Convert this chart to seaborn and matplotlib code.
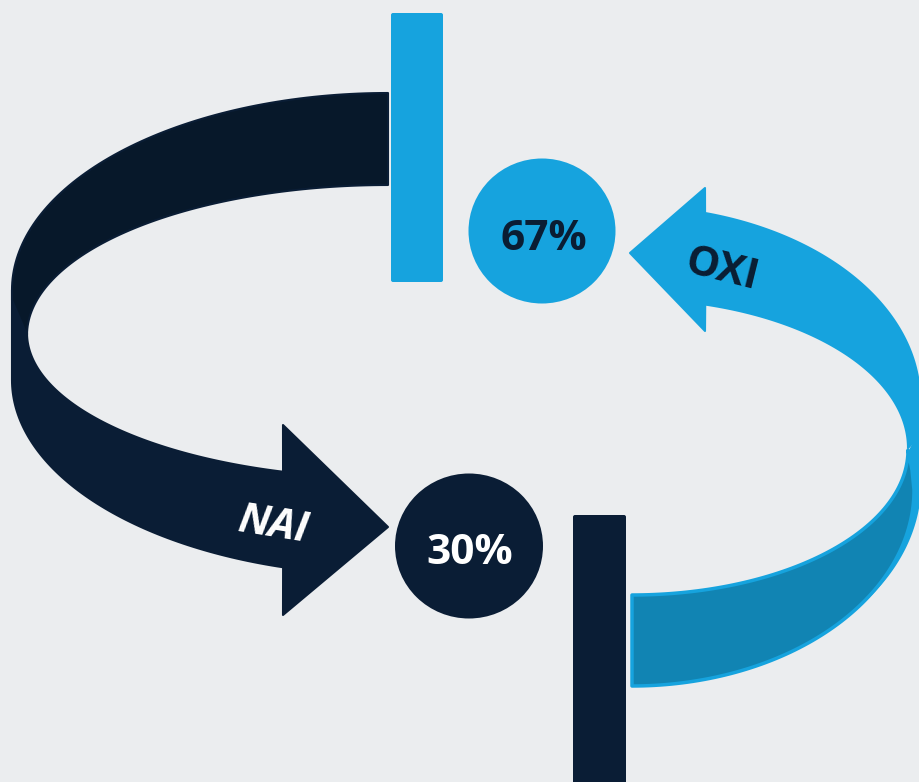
import numpy as np
import seaborn as sns
import matplotlib.pyplot as plt
from matplotlib.patches import Polygon, Ellipse, FancyBboxPatch

# data
labels = ["NAI", "OXI"]
shares = [30, 67]
label_colors = ["white", "#0a1d33"]

bg = "#ebedef"
navy = "#0a1d35"
navy_dark = "#07182a"
sky = "#16a3de"
sky_dark = "#1184b3"

sns.set_theme(style="white", rc={"axes.facecolor": bg, "figure.facecolor": bg})
plt.rcParams['font.family'] = ['Open Sans', 'DejaVu Sans']


def arc(cx, cy, a, b, t0, t1, n=80):
    # y grows downwards (pixel space)
    t = np.radians(np.linspace(t0, t1, n))
    return np.column_stack([cx + a * np.cos(t), cy + b * np.sin(t)])


fig = plt.figure(figsize=(9.19, 7.82), dpi=100)
ax = fig.add_axes([0, 0, 1, 1])
ax.set_xlim(0, 919)
ax.set_ylim(782, 0)
ax.axis('off')

# --- left (NAI) arrow ---
lower_left = np.vstack([
    [[12, 290]],
    arc(388, 380, 376, 195, 180, 106.2),
    [[283, 615], [388, 527], [283, 425]],
    arc(388, 333, 361, 145, 106.9, 180),
])
ax.add_patch(Polygon(lower_left, closed=True, fc=navy, ec=navy, lw=1.5, joinstyle='round', zorder=2))
upper_left = np.vstack([
    arc(388, 290, 376, 197, -90, -180),
    [[12, 300]],
    arc(388, 335, 361, 150, 180, 270),
])
ax.add_patch(Polygon(upper_left, closed=True, fc=navy_dark, ec=navy, lw=1.5, joinstyle='round', zorder=3))

# --- right (OXI) arrow ---
# light strip behind the twist, tapering along the right edge
tt = np.linspace(-5, 40, 60)
off = 8 * (1 - (tt + 5) / 45)
strip_out = np.column_stack([632 + (282 + off) * np.cos(np.radians(tt)),
                             490 + (196 + off) * np.sin(np.radians(tt))])
strip = np.vstack([[[908, 452], [925, 420]], strip_out, arc(632, 490, 270, 185, 40, 12)])
ax.add_patch(Polygon(strip, closed=True, fc=sky, ec='none', zorder=1))

lower_right = np.vstack([
    arc(632, 450, 276, 145, 0, 90),
    arc(632, 490, 282, 196, 90, 0),
    [[912, 470]],
])
ax.add_patch(Polygon(lower_right, closed=True, fc=sky_dark, ec=sky, lw=2.5, joinstyle='round', zorder=2))
upper_right = np.vstack([
    arc(630, 400, 290, 193.6, -75, 0),
    [[925, 400], [925, 430]],
    arc(630, 448, 278, 149, 0, -74.3),
    [[705, 331], [630, 253], [705, 188]],
])
ax.add_patch(Polygon(upper_right, closed=True, fc=sky, ec=sky, lw=1.5, joinstyle='round', zorder=3))

# --- bars ---
ax.add_patch(FancyBboxPatch((392, 14), 50, 267, boxstyle="round,pad=1,rounding_size=2",
                            fc=sky, ec='none', zorder=4))
ax.add_patch(FancyBboxPatch((574, 516), 51, 280, boxstyle="round,pad=1,rounding_size=2",
                            fc=navy, ec='none', zorder=4))

# --- circles with percentages ---
ax.add_patch(Ellipse((542, 231), 147, 145, fc=sky, ec='none', zorder=4))
ax.add_patch(Ellipse((469, 546), 148, 145, fc=navy, ec='none', zorder=4))
ax.text(544, 239, f"{shares[1]}%", color="#0a1d33", fontsize=30.5, fontweight='bold',
        ha='center', va='center', zorder=5)
ax.text(470, 554, f"{shares[0]}%", color="white", fontsize=30.5, fontweight='bold',
        ha='center', va='center', zorder=5)

# --- arrow labels ---
ax.text(274, 526, labels[0], color=label_colors[0], fontsize=30, fontweight='bold',
        style='italic', rotation=-9, ha='center', va='center', rotation_mode='anchor', zorder=5)
ax.text(722, 271, labels[1], color=label_colors[1], fontsize=30, fontweight='bold',
        rotation=-14, ha='center', va='center', rotation_mode='anchor', zorder=5)

fig.savefig("out.png", dpi=100, facecolor=bg)
